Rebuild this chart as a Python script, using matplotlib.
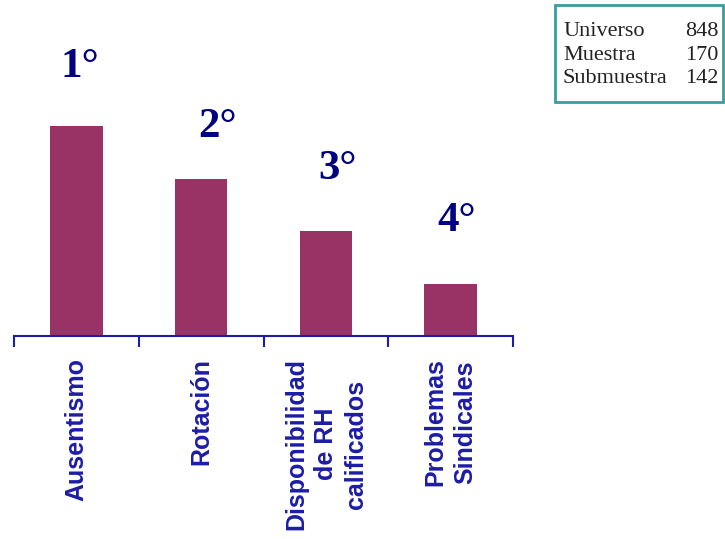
import matplotlib.pyplot as plt

# ranking of the problems (1 = most important)
categorias = ["Ausentismo", "Rotación", "Disponibilidad\nde RH\ncalificados", "Problemas\nSindicales"]
puntaje = [4, 3, 2, 1]
rangos = ["1°", "2°", "3°", "4°"]

muestra_nombres = ["Universo", "Muestra", "Submuestra"]
muestra_valores = [848, 170, 142]

fig = plt.figure(figsize=(7.25, 5.39), dpi=100)
ax = fig.add_axes([14/725, 203/539, 499/725, 315/539])

x = list(range(len(categorias)))
ax.bar(x, puntaje, width=0.42, color="#993366")
ax.set_xlim(-0.5, 3.5)
ax.set_ylim(0, 6)

azul = "#1c1ca6"
for s in ["left", "right", "top"]:
    ax.spines[s].set_visible(False)
ax.spines["bottom"].set_color(azul)
ax.spines["bottom"].set_linewidth(1.5)
ax.set_yticks([])
ax.set_xticks([-0.5, 0.5, 1.5, 2.5, 3.5])
ax.set_xticklabels([])
ax.tick_params(axis="x", direction="out", length=8, width=1.5, color=azul)

# category names, rotated and hanging below the axis
for i, cat in enumerate(categorias):
    ax.text(i, -0.42, cat, rotation=90, ha="center", va="top", multialignment="center",
            fontsize=18, fontweight="bold", color=azul, family="Liberation Sans",
            linespacing=1.3)

# rank labels above the bars
desfase_y = [1.12, 0.98, 1.18, 1.19]
desfase_x = [0.03, 0.13, 0.09, 0.05]
for i, r in enumerate(rangos):
    ax.text(x[i] + desfase_x[i], puntaje[i] + desfase_y[i], r, ha="center", va="center",
            fontsize=31, fontweight="bold", color="#000080", family="Liberation Serif")

# sample size box
caja = "\n".join(muestra_nombres)
nums = "\n".join(str(v) for v in muestra_valores)
fig.patches.append(plt.Rectangle((555/725, 1 - 102/539), 168/725, 97/539,
                                 transform=fig.transFigure, fill=False,
                                 edgecolor="#3a9e9e", linewidth=2))
fig.text(563/725, 1 - 55/539, caja, ha="left", va="center", fontsize=16,
         family="Liberation Serif", color="#222222", linespacing=1.3)
fig.text(718/725, 1 - 55/539, nums, ha="right", va="center", fontsize=16,
         family="Liberation Serif", color="#222222", linespacing=1.3)

fig.savefig("out.png", dpi=100)
